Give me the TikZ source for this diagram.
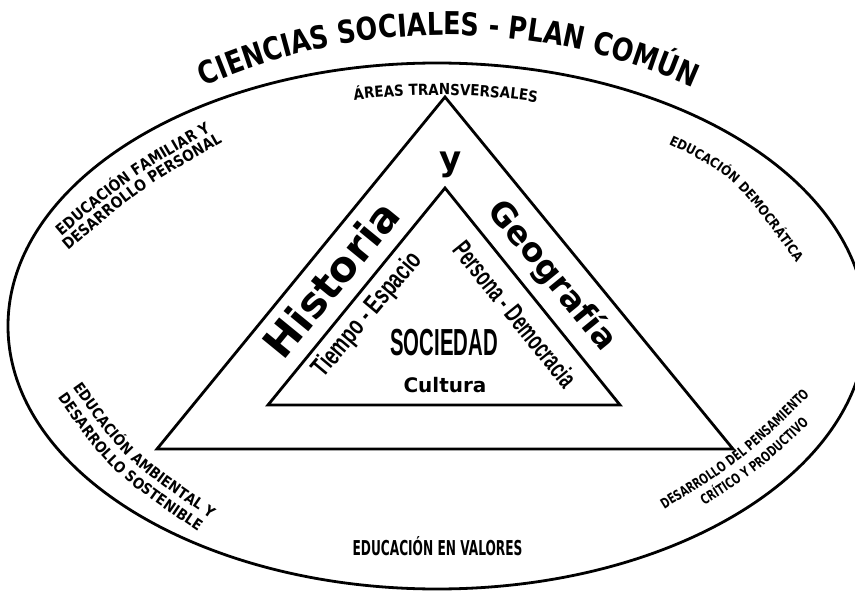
\documentclass[tikz,border=0pt]{standalone}
\usepackage{fontspec}
\usepackage{graphicx}
\usetikzlibrary{decorations.text}
\newfontfamily\titlefont[FakeStretch=0.81]{DejaVu Sans Bold}
\newfontfamily\lblfont[FakeStretch=0.88]{DejaVu Sans Bold}
\newfontfamily\lblnarrow[FakeStretch=0.72]{DejaVu Sans Bold}
\newfontfamily\boldsans{DejaVu Sans Bold}
\newfontfamily\narrowsans{Liberation Sans Bold}
\tikzset{
  frame/.style={line width=2.8pt, line join=miter},
  curvedlabel/.style={decorate, decoration={text along path, text align=center, text={#1}}},
  plain/.style={inner sep=0pt, outer sep=0pt},
}
\begin{document}
\begin{tikzpicture}[x=1pt,y=-1pt]
\useasboundingbox (0,0) rectangle (855,594);
\fill[white] (0,0) rectangle (855,594);
\clip (0,0) rectangle (855,594);
% ellipse
\draw[frame] (437,326) ellipse [x radius=429, y radius=263];
% triangles
\coordinate (oA) at (157,449);
\coordinate (oB) at (445,97);
\coordinate (oC) at (733,449);
\coordinate (iA) at (268,405);
\coordinate (iB) at (445,188);
\coordinate (iC) at (620,405);
\draw[frame] (oA) -- (oB) -- (oC) -- cycle;
\draw[frame] (iA) -- (iB) -- (iC) -- cycle;
% title
\path[curvedlabel={|\titlefont\fontsize{31.5pt}{31.5pt}\selectfont|CIENCIAS SOCIALES - PLAN COMÚN}]
  (447,635) ++(-118.85:600) arc[start angle=-118.85, end angle=-60.85, radius=600];
% top label
\path[curvedlabel={|\lblfont\fontsize{15.3pt}{15.3pt}\selectfont|ÁREAS TRANSVERSALES}]
  (437,326) ++(-108.7:397 and 231) arc[start angle=-108.7, end angle=-68.7, x radius=397, y radius=231];
% upper left
\path[curvedlabel={|\lblfont\fontsize{15.5pt}{15.5pt}\selectfont|EDUCACIÓN FAMILIAR Y}]
  (50,246) .. controls (131,177) .. (224,124);
\path[curvedlabel={|\lblfont\fontsize{15.5pt}{15.5pt}\selectfont|DESARROLLO PERSONAL}]
  (60,258) .. controls (140,189) .. (232,137);
% upper right
\path[curvedlabel={|\lblfont\fontsize{13.3pt}{13.3pt}\selectfont|EDUCACIÓN DEMOCRÁTICA}]
  (655,138) .. controls (734,175) .. (805,275);
% lower left
\path[curvedlabel={|\lblfont\fontsize{15pt}{15pt}\selectfont|EDUCACIÓN AMBIENTAL Y}]
  (66,378) .. controls (124,460) .. (220,525);
\path[curvedlabel={|\lblfont\fontsize{15pt}{15pt}\selectfont|DESARROLLO SOSTENIBLE}]
  (52,390) .. controls (110,472) .. (206,537);
% lower right
\path[curvedlabel={|\lblnarrow\fontsize{13.9pt}{13.9pt}\selectfont|DESARROLLO DEL PENSAMIENTO}]
  (652,517) .. controls (743.7,460.3) .. (820,385);
\path[curvedlabel={|\lblnarrow\fontsize{13.9pt}{13.9pt}\selectfont|CRÍTICO Y PRODUCTIVO}]
  (670,527) .. controls (762,470) .. (838,395);
% bottom label
\node[plain, anchor=base, font=\lblfont\fontsize{20.5pt}{20.5pt}\selectfont] (valores) at (437.5,555)
  {\scalebox{0.675}[1]{EDUCACIÓN EN VALORES}};
% inner texts
\node[plain, rotate=50.7, font=\boldsans\fontsize{42pt}{42pt}\selectfont] (historia) at (331,279) {Historia};
\node[plain, rotate=-50.7, font=\boldsans\fontsize{33pt}{33pt}\selectfont] (geografia) at (552,276) {Geografía};
\node[plain, font=\boldsans\fontsize{34pt}{34pt}\selectfont] (yy) at (451,165) {y};
\node[plain, rotate=50, font=\narrowsans\fontsize{27pt}{27pt}\selectfont] (tiempo) at (368,315)
  {\scalebox{0.69}[1]{Tiempo - Espacio}};
\node[plain, rotate=-51, font=\narrowsans\fontsize{27pt}{27pt}\selectfont] (persona) at (515,314)
  {\scalebox{0.63}[1]{Persona - Democracia}};
\node[plain, anchor=base, font=\narrowsans\fontsize{37.7pt}{37.7pt}\selectfont] (sociedad) at (444,355)
  {\scalebox{0.54}[1]{SOCIEDAD}};
\node[plain, anchor=base, font=\boldsans\fontsize{20pt}{20pt}\selectfont] (cultura) at (445,392) {Cultura};
\end{tikzpicture}
\end{document}
